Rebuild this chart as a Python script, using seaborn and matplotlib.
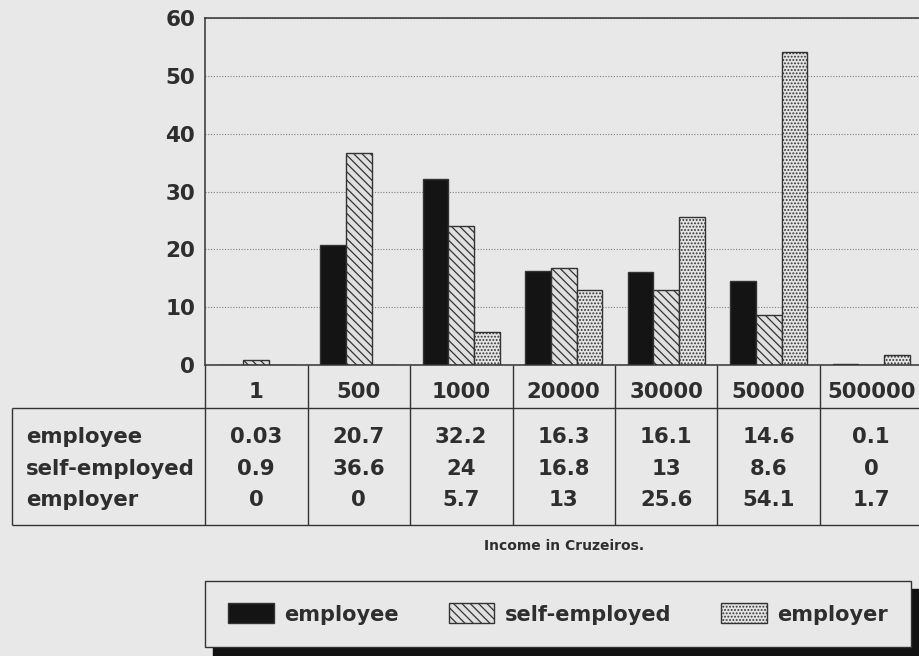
import matplotlib.pyplot as plt
import matplotlib.patches as mpatches
import pandas as pd
import seaborn as sns

incomes = ["1", "500", "1000", "20000", "30000", "50000", "500000"]
employee = [0.03, 20.7, 32.2, 16.3, 16.1, 14.6, 0.1]
self_employed = [0.9, 36.6, 24, 16.8, 13, 8.6, 0]
employer = [0, 0, 5.7, 13, 25.6, 54.1, 1.7]
groups = ["employee", "self-employed", "employer"]

series = {"employee": employee, "self-employed": self_employed, "employer": employer}
df = pd.DataFrame(
    [(inc, g, v) for g in groups for inc, v in zip(incomes, series[g])],
    columns=["income", "group", "value"],
)

bg = "#e8e8e8"
ink = "#2e2e2e"
styles = {
    "employee": dict(facecolor="#141414", hatch=""),
    "self-employed": dict(facecolor="#e0e0e0", hatch="\\\\\\\\"),
    "employer": dict(facecolor="#e4e4e4", hatch="....."),
}

sns.set_theme(style="white")
plt.rcParams["font.family"] = ["DejaVu Sans"]
plt.rcParams["hatch.linewidth"] = 0.9

W, H = 919, 656
fig = plt.figure(figsize=(W / 100, H / 100), dpi=100, facecolor=bg)


def fx(px):
    return px / W


def fy(py):
    return 1 - py / H


# plot area in pixels
left, top, bottom, colw = 205, 18, 365, 102.5
ax = fig.add_axes([fx(left), fy(bottom), 7 * colw / W, (bottom - top) / H])
ax.set_facecolor(bg)

sns.barplot(
    data=df, x="income", y="value", hue="group", hue_order=groups,
    palette={g: styles[g]["facecolor"] for g in groups},
    width=0.75, saturation=1, edgecolor="#333333", linewidth=1.0,
    legend=False, ax=ax,
)
for cont, g in zip(ax.containers, groups):
    for bar in cont:
        bar.set_hatch(styles[g]["hatch"])

ax.set_ylim(0, 60)
ax.set_xlim(-0.5, 6.5)
ax.set_yticks(range(0, 61, 10))
ax.yaxis.grid(True, linestyle=(0, (1, 1.5)), color="#808080", linewidth=0.8)
ax.set_axisbelow(True)
ax.set_xlabel("")
ax.set_ylabel("")
ax.set_xticks([])
ax.tick_params(axis="y", direction="in", length=7, width=1, color="#333333",
               pad=7, labelsize=15.5, labelcolor=ink)
for t in ax.get_yticklabels():
    t.set_fontweight("bold")
for s in ax.spines.values():
    s.set_color("#333333")
    s.set_linewidth(1.1)


def xpx(px):
    return -0.5 + (px - left) / colw


def ypx(py):
    return (bottom - py) / (bottom - top)


tr = ax.get_xaxis_transform()
lc = "#333333"
fs = 15.3
# header row with the categories
ax.vlines([i - 0.5 for i in range(8)], ypx(408), 0, transform=tr, color=lc,
          lw=1.0, clip_on=False)
for i, lab in enumerate(incomes):
    ax.text(i, ypx(392), lab, transform=tr, ha="center", va="center",
            fontsize=fs, fontweight="bold", color=ink, clip_on=False)

# data table body
ax.hlines([ypx(408), ypx(525)], xpx(12), 6.6, transform=tr, color=lc,
          lw=1.0, clip_on=False)
ax.vlines([xpx(12)] + [i - 0.5 for i in range(8)], ypx(525), ypx(408),
          transform=tr, color=lc, lw=1.0, clip_on=False)
row_y = [437, 469, 500]
for g, yy in zip(groups, row_y):
    ax.text(xpx(26), ypx(yy), g, transform=tr, ha="left", va="center",
            fontsize=fs, fontweight="bold", color=ink, clip_on=False)
    for i, v in enumerate(series[g]):
        ax.text(i, ypx(yy), f"{v:g}", transform=tr, ha="center", va="center",
                fontsize=fs, fontweight="bold", color=ink, clip_on=False)

fig.text(fx(left + 7 * colw / 2), fy(546), "Income in Cruzeiros.", ha="center",
         va="center", fontsize=10, fontweight="bold", color=ink)

handles = [
    mpatches.Patch(facecolor=styles[g]["facecolor"], hatch=styles[g]["hatch"],
                   edgecolor="#333333", linewidth=1.0, label=g)
    for g in groups
]
leg = fig.legend(
    handles=handles, ncol=3, loc="center", mode="expand",
    bbox_to_anchor=(fx(205), fy(648), (911 - 205) / W, (648 - 580) / H),
    frameon=True, fancybox=False, edgecolor="#333333", facecolor=bg,
    framealpha=1, fontsize=15, handlelength=2.2, handleheight=1.1,
    handletextpad=0.5, borderpad=1.1, borderaxespad=0,
    shadow={"ox": 5.8, "oy": -5.8, "facecolor": "#111111",
            "edgecolor": "#111111", "alpha": 1},
)
leg.get_frame().set_linewidth(1.0)
for t in leg.get_texts():
    t.set_fontweight("bold")
    t.set_color(ink)

fig.savefig("out.png", dpi=100, facecolor=bg)
